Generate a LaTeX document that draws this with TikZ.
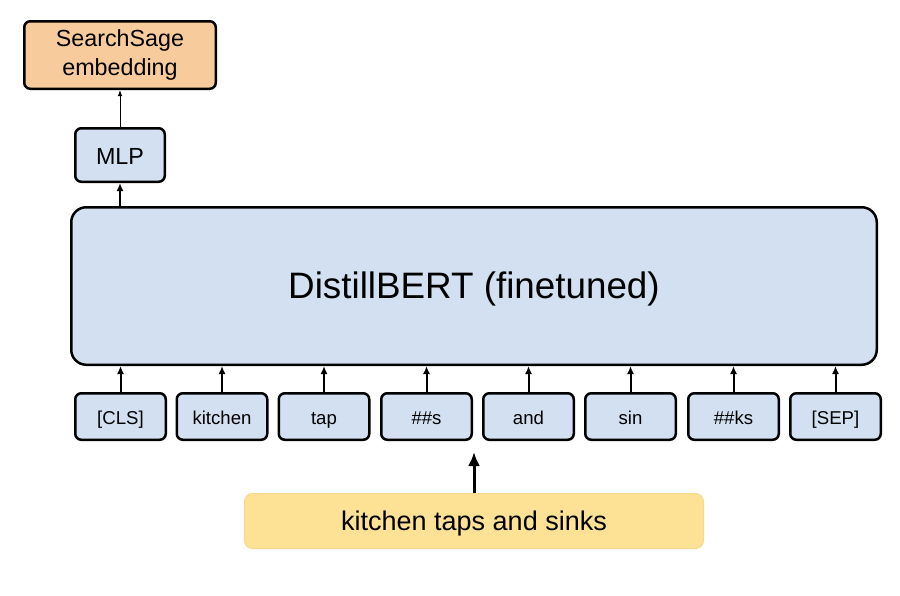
\documentclass[tikz,border=0pt]{standalone}
\usepackage{fontspec}
\setmainfont{Liberation Sans}
\usetikzlibrary{arrows.meta}
\definecolor{boxblue}{HTML}{D3E0F1}
\definecolor{boxpeach}{HTML}{F7CB9B}
\definecolor{boxyellow}{HTML}{FDE295}
\definecolor{yellowedge}{HTML}{F5D98C}
\begin{document}
\begin{tikzpicture}[x=1pt,y=-1pt,
		box/.style={draw,line width=2.5pt,rounded corners=6pt,fill=boxblue,inner sep=0pt},
		tok/.style={box,minimum width=90.5pt,minimum height=46.5pt,text height=16.5pt,text depth=1.5pt,
			font=\fontsize{18.6}{20}\selectfont},
		uparrow/.style={line width=2pt,-{Latex[length=8pt,width=7pt]}},
		thinarrow/.style={line width=1pt,-{Latex[length=6pt,width=4.5pt]}},
		bigarrow/.style={line width=3pt,-{Latex[length=14pt,width=12pt]}}]
		\useasboundingbox (0,0) rectangle (900,595);
		%%%
		\node[box,fill=boxpeach,minimum width=191.5pt,minimum height=67.5pt,align=center,
			font=\fontsize{23.3}{28.3}\selectfont] (embedding) at (120,55) {SearchSage\\embedding};
		\node[box,minimum width=89.5pt,minimum height=53.5pt,text height=19.6pt,text depth=1pt,
			font=\fontsize{23.3}{28}\selectfont] (mlp) at (120,155) {MLP};
		\node[box,rounded corners=15pt,minimum width=805.5pt,minimum height=157.5pt,text height=27.4pt,text depth=2pt,
			font=\fontsize{36.8}{40}\selectfont] (bert) at (474,286) {DistillBERT (finetuned)};
		%%%
		\node[tok] (cls) at (120.5,416.5) {[CLS]};
		\node[tok] (kitchen) at (222,416.5) {kitchen};
		\node[tok] (tap) at (324,416.5) {tap};
		\node[tok] (s) at (426.5,416.5) {\#\#s};
		\node[tok] (and) at (528.5,416.5) {and};
		\node[tok] (sin) at (630.5,416.5) {sin};
		\node[tok] (ks) at (733.5,416.5) {\#\#ks};
		\node[tok] (sep) at (835.5,416.5) {[SEP]};
		%%%
		\node[draw=yellowedge,line width=1pt,fill=boxyellow,rounded corners=8pt,minimum width=459pt,minimum height=55pt,
			text height=20pt,text depth=2pt,font=\fontsize{27}{30}\selectfont] (query) at (474,521) {kitchen taps and sinks};
		\coordinate (querytip) at (474,452);
		%%%
		\draw[thinarrow] (mlp.north) -- (embedding.south);
		\draw[uparrow] (bert.north -| mlp.south) -- (mlp.south);
		\draw[uparrow] (cls.north) -- (cls.north |- bert.south);
		\draw[uparrow] (kitchen.north) -- (kitchen.north |- bert.south);
		\draw[uparrow] (tap.north) -- (tap.north |- bert.south);
		\draw[uparrow] (s.north) -- (s.north |- bert.south);
		\draw[uparrow] (and.north) -- (and.north |- bert.south);
		\draw[uparrow] (sin.north) -- (sin.north |- bert.south);
		\draw[uparrow] (ks.north) -- (ks.north |- bert.south);
		\draw[uparrow] (sep.north) -- (sep.north |- bert.south);
		\draw[bigarrow] (query.north) -- (querytip);
	\end{tikzpicture}
\end{document}
